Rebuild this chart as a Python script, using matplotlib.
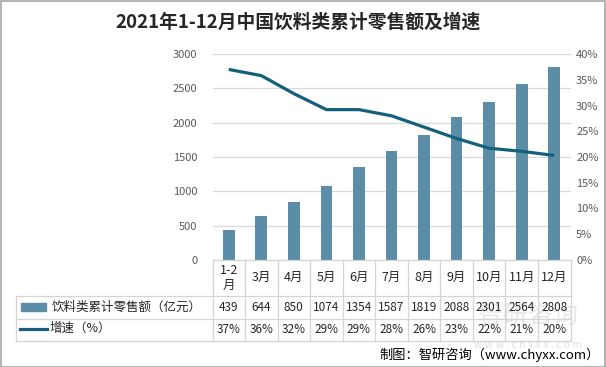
import matplotlib
matplotlib.use("Agg")
import matplotlib.pyplot as plt
import matplotlib.transforms as mtransforms
from matplotlib.lines import Line2D
from matplotlib.patches import Rectangle
import numpy as np

plt.rcParams["font.family"] = ["Noto Sans CJK SC", "DejaVu Sans"]

# =========================
# DATA
# =========================

months = ["1-2\n月", "3月", "4月", "5月", "6月", "7月", "8月", "9月", "10月", "11月", "12月"]
sales = [439, 644, 850, 1074, 1354, 1587, 1819, 2088, 2301, 2564, 2808]
growth = [37, 36, 32, 29, 29, 28, 26, 23, 22, 21, 20]
growth_line = [37.0, 35.8, 32.3, 29.2, 29.2, 28.0, 25.8, 23.6, 21.7, 21.1, 20.3]

bar_label = "饮料类累计零售额（亿元）"
line_label = "增速（%）"
title = "2021年1-12月中国饮料类累计零售额及增速"
source = "制图：智研咨询（www.chyxx.com）"

bar_color = "#5b8ea6"
line_color = "#14607c"
grid_color = "#d9d9d9"
text_color = "#595959"

W, H = 606, 367


def fx(px):
    return px / W


def fy(py):
    return 1 - py / H


fig = plt.figure(figsize=(W / 100, H / 100), dpi=100, facecolor="white")

# plot area
left, right, top, bottom = 212.5, 570.5, 54, 260
ax = fig.add_axes([fx(left), fy(bottom), fx(right - left), (bottom - top) / H])
x = np.arange(len(months))
ax.bar(x, sales, width=0.36, color=bar_color, zorder=2)
ax.set_xlim(-0.5, len(months) - 0.5)
ax.set_ylim(0, 3000)
ax.set_yticks(np.arange(0, 3001, 500))
ax.yaxis.grid(True, color=grid_color, lw=0.9)
ax.set_axisbelow(True)
ax.set_xticks([])
for s in ax.spines.values():
    s.set_visible(False)
ax.tick_params(axis="y", length=0, labelsize=8, labelcolor=text_color, pad=11)

ax2 = ax.twinx()
ax2.plot(x, growth_line, color=line_color, lw=2.3, zorder=3, solid_capstyle="butt")
ax2.set_ylim(0, 40)
ax2.set_yticks(np.arange(0, 41, 5))
ax2.set_yticklabels([f"{v}%" for v in range(0, 41, 5)])
for s in ax2.spines.values():
    s.set_visible(False)
ax2.tick_params(axis="y", length=0, labelsize=8, labelcolor=text_color, pad=4)

# =========================
# DATA TABLE
# =========================

trans = mtransforms.blended_transform_factory(ax.transData, fig.transFigure)
row_y = [259.5, 296, 318.5, 340.5]
lab_left = 16
lc = "#d4d4d4"


def hline(x0, x1, py):
    fig.add_artist(Line2D([fx(x0), fx(x1)], [fy(py), fy(py)], color=lc, lw=0.9))


def vline(px, y0, y1):
    fig.add_artist(Line2D([fx(px), fx(px)], [fy(y0), fy(y1)], color=lc, lw=0.9))


hline(left, right, row_y[0])
for py in row_y[1:]:
    hline(lab_left, right, py)
vline(lab_left, row_y[1], row_y[3])
for i in range(len(months) + 1):
    px = left + i * (right - left) / len(months)
    vline(px, row_y[0], row_y[3])

# watermark (faint, behind the table text)
fig.text(fx(528), fy(316), "智研咨询", ha="center", va="center", fontsize=18,
         color="#c3ccd3", alpha=0.45, zorder=0)
fig.text(fx(528), fy(345), "w w w . c h y x x . c o m", ha="center", va="center",
         fontsize=7.5, color="#c3ccd3", alpha=0.6, zorder=0)

for i, m in enumerate(months):
    yc = (row_y[0] + row_y[1]) / 2
    fig.text(i, fy(yc), m, transform=trans, ha="center", va="center",
             fontsize=9, color="#262626", linespacing=1.25)
    fig.text(i, fy((row_y[1] + row_y[2]) / 2), str(sales[i]), transform=trans,
             ha="center", va="center", fontsize=8.5, color="#262626")
    fig.text(i, fy((row_y[2] + row_y[3]) / 2), f"{growth[i]}%", transform=trans,
             ha="center", va="center", fontsize=8.5, color="#262626")

# legend keys inside the table
fig.add_artist(Rectangle((fx(21), fy(311)), fx(25), 8 / H, color=bar_color))
fig.text(fx(52), fy(307), bar_label, ha="left", va="center", fontsize=9, color="#262626")
fig.add_artist(Line2D([fx(20), fx(47)], [fy(329), fy(329)], color=line_color, lw=2.3))
fig.text(fx(50), fy(328), line_label, ha="left", va="center", fontsize=9, color="#262626")

# title and source
fig.text(fx(298), fy(22), title, ha="center", va="center", fontsize=13.5,
         fontweight="bold", color="#262626")
fig.text(fx(600), fy(355), source, ha="right", va="center", fontsize=9.5, color="black")

# outer frame
fig.add_artist(Rectangle((0.5 / W, 0.5 / H), 1 - 1.5 / W, 1 - 1.5 / H, fill=False,
                         edgecolor="#a6a6a6", lw=1.2))

fig.savefig("out.png", dpi=100, facecolor="white")
